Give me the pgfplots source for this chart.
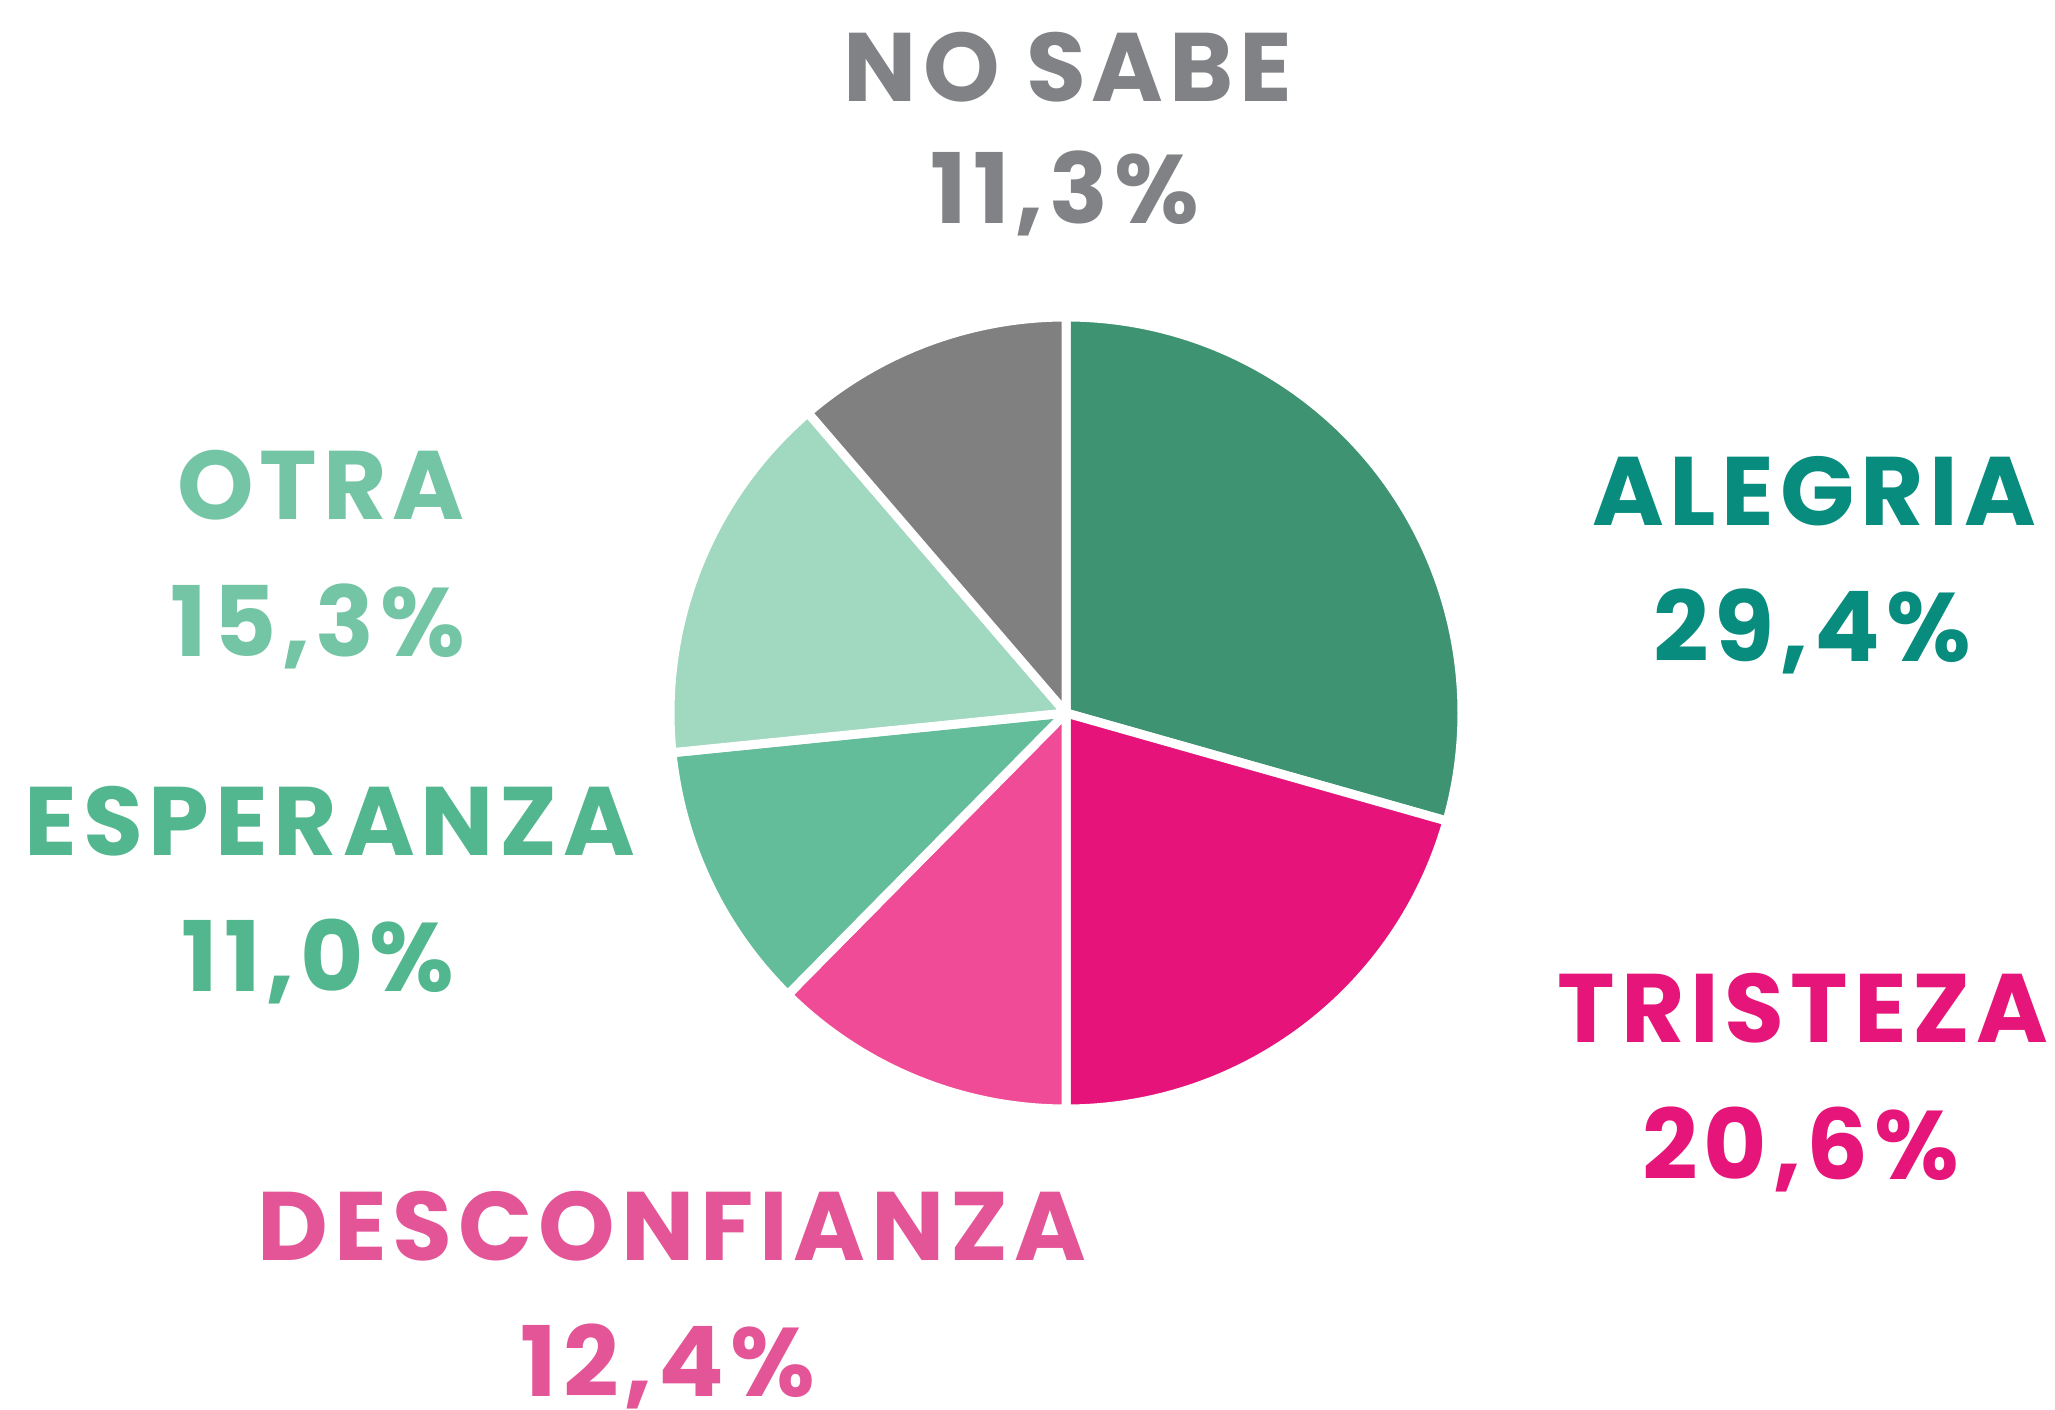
\documentclass[border=0pt]{standalone}
\usepackage{pgfplots}
\pgfplotsset{compat=1.18}
\usepackage{pgfplotstable}
\usepackage{fontspec}
\setmainfont{Poppins}[LetterSpace=6]
\definecolor{sAleg}{HTML}{3E9472}
\definecolor{sTris}{HTML}{E6147A}
\definecolor{sDesc}{HTML}{F04B96}
\definecolor{sEsp}{HTML}{63BD9B}
\definecolor{sOtra}{HTML}{A0D8C0}
\definecolor{sNo}{HTML}{808080}
\definecolor{tAleg}{HTML}{078C7E}
\definecolor{tTris}{HTML}{E5157A}
\definecolor{tDesc}{HTML}{E35596}
\definecolor{tEsp}{HTML}{52B68E}
\definecolor{tOtra}{HTML}{74C4A6}
\definecolor{tNo}{HTML}{808285}
\pgfplotstableread{
name pct col
Alegria 29.4 sAleg
Tristeza 20.6 sTris
Desconfianza 12.4 sDesc
Esperanza 11.0 sEsp
Otra 15.3 sOtra
NoSabe 11.3 sNo
}\datatable
\newcommand{\lbl}{\fontsize{27.7}{30}\selectfont\bfseries}
\begin{document}
\begin{tikzpicture}
\begin{axis}[width=20.55cm, height=14.09cm, scale only axis,
  xmin=0, xmax=2055, ymin=0, ymax=1409, hide axis, clip=false]
\path (axis cs:0,0) rectangle (axis cs:2055,1409);
\gdef\angA{90}
\pgfplotsforeachungrouped \i in {0,...,5}{%
  \pgfplotstablegetelem{\i}{pct}\of\datatable
  \let\v\pgfplotsretval
  \pgfplotstablegetelem{\i}{col}\of\datatable
  \let\c\pgfplotsretval
  \pgfmathsetmacro\angB{\angA-3.6*\v}%
  \edef\temp{\noexpand\fill[\c, draw=white, line width=0.9mm, line join=round]
    (axis cs:1066,696) -- ++(\angA:3.96cm) arc[start angle=\angA, end angle=\angB, radius=3.96cm] -- cycle;}%
  \temp
  \global\let\angA\angB
}
\tikzset{lab/.style={anchor=base, inner sep=0pt, font=\lbl}}
\node[lab, text=tNo] at (axis cs:1068,1307) {NO SABE};
\node[lab, text=tNo] at (axis cs:1065,1185) {11,3\%};
\node[lab, text=tAleg] at (axis cs:1814,883) {ALEGRIA};
\node[lab, text=tAleg] at (axis cs:1812,747) {29,4\%};
\node[lab, text=tTris] at (axis cs:1803,366) {TRISTEZA};
\node[lab, text=tTris] at (axis cs:1801,229) {20,6\%};
\node[lab, text=tDesc] at (axis cs:672,148) {DESCONFIANZA};
\node[lab, text=tDesc] at (axis cs:668,12) {12,4\%};
\node[lab, text=tEsp] at (axis cs:330,553) {ESPERANZA};
\node[lab, text=tEsp] at (axis cs:318,417) {11,0\%};
\node[lab, text=tOtra] at (axis cs:321,889) {OTRA};
\node[lab, text=tOtra] at (axis cs:318,752) {15,3\%};
\end{axis}
\end{tikzpicture}
\end{document}
